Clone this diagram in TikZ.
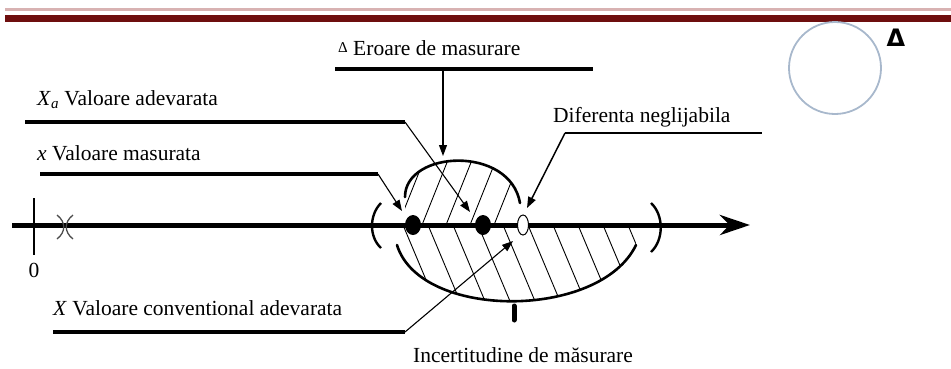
\documentclass[tikz,border=0pt]{standalone}
\usepackage{fontspec}
\setmainfont{Liberation Serif}
\newfontfamily\symfont{DejaVu Sans}
\usetikzlibrary{
    shapes.geometric,
    arrows.meta,
    positioning,
    calc
}

\definecolor{headred}{HTML}{6E0E0E}
\definecolor{headpink}{HTML}{D8B2B2}
\definecolor{ringblue}{HTML}{A8B8CC}

\begin{document}
\begin{tikzpicture}[
            x=1pt, y=-1pt,
            lbl/.style={anchor=west, inner sep=0pt, font=\fontsize{21.5}{24}\selectfont},
            bar/.style={line width=4.5pt},
            lead/.style={line width=1.1pt, -{Triangle[length=11pt, width=8pt]}},
            hatch/.style={line width=0.9pt},
            rim/.style={line width=2.6pt, line cap=round},
            paren/.style={line width=2.4pt},
            axisarr/.style={line width=5pt, -{Stealth[length=30pt, width=20pt]}},
        ]
            \useasboundingbox (0,0) rectangle (951,368);

            % ====== Header ======
            \draw[headpink, line width=3pt] (5,9) -- (951,9);
            \draw[headred, line width=7pt] (5,18.5) -- (951,18.5);
            \node[circle, draw=ringblue, line width=1.8pt, minimum size=92pt] (ring) at (835,68) {};
            \node[font=\symfont\bfseries\fontsize{24}{26}\selectfont, inner sep=0pt] (delta) at (896,38) {Δ};

            % ====== Hatched zones ======
            \begin{scope}
                \clip (405,225) -- (405,197) .. controls (405,150) and (510,145) .. (520,203) -- (520,225) -- cycle;
                \foreach \s in {398,422,...,530}
                    \draw[hatch] (\s,225) -- ++(40,-100);
            \end{scope}
            \begin{scope}
                \clip (397,225) -- (397,245) .. controls (420,320) and (600,320) .. (636,245) -- (636,225) -- cycle;
                \foreach \s in {378,403,...,640}
                    \draw[hatch] (\s,225) -- ++(42,100);
            \end{scope}
            \draw[rim] (405,197) .. controls (405,150) and (510,145) .. (520,203);
            \draw[rim] (397,245) .. controls (420,320) and (600,320) .. (636,245);
            \draw[line width=5pt, line cap=round] (514,306) -- (514,320);

            % ====== Axis ======
            \coordinate (start) at (12,225);
            \coordinate (tip) at (750,225);
            \draw[axisarr] (start) -- (tip);
            \draw[line width=1.2pt] (34,198) -- (34,255);
            \node[font=\fontsize{21.5}{24}\selectfont, inner sep=0pt] (zero) at (34,270) {0};
            \draw[line width=1.3pt, black!70] (57,215) .. controls (66,222) and (66,232) .. (57,239);
            \draw[line width=1.3pt, black!70] (73,215) .. controls (64,222) and (64,232) .. (73,239);
            \draw[paren] (381,203) .. controls (369,215) and (369,237) .. (381,248);
            \draw[paren] (651,203) .. controls (664,215) and (664,240) .. (651,252);

            % ====== Points ======
            \node[ellipse, fill=black, minimum width=16pt, minimum height=20pt, inner sep=0pt] (meas) at (413,225) {};
            \node[ellipse, fill=black, minimum width=16pt, minimum height=20pt, inner sep=0pt] (true) at (483,225) {};
            \node[ellipse, draw, fill=white, line width=1pt, minimum width=11pt, minimum height=20pt, inner sep=0pt] (conv) at (523,225) {};

            % ====== Labels ======
            \node[lbl] (errlbl) at (338,48) {\raisebox{3pt}{\fontsize{15}{16}\selectfont Δ} Eroare de masurare};
            \node[lbl] (truelbl) at (37,100) {\textit{X}\textsubscript{\textit{a}} Valoare adevarata};
            \node[lbl] (measlbl) at (37,153) {\textit{x} Valoare masurata};
            \node[lbl] (convlbl) at (53,308) {\textit{X} Valoare conventional adevarata};
            \node[lbl] (diflbl) at (553,117) {Diferenta neglijabila};
            \node[lbl] (unclbl) at (413,355) {Incertitudine de măsurare};

            \coordinate (errend) at (443,69);
            \coordinate (trueend) at (405,122);
            \coordinate (measend) at (378,174);
            \coordinate (convend) at (405,332);
            \coordinate (difend) at (565,133);

            \draw[bar] (335,69) -- (593,69);
            \draw[bar] (25,122) -- (trueend);
            \draw[bar] (40,174) -- (measend);
            \draw[bar] (53,332) -- (convend);
            \draw[line width=1.2pt] (difend) -- (762,133);

            % ====== Leaders ======
            \draw[lead] (errend) -- (443,156);
            \draw[lead] (trueend) -- (470,212);
            \draw[lead] (measend) -- (402,211);
            \draw[lead] (convend) -- (513,241);
            \draw[lead, line width=1.5pt] (difend) -- (527,208);
        \end{tikzpicture}
\end{document}
